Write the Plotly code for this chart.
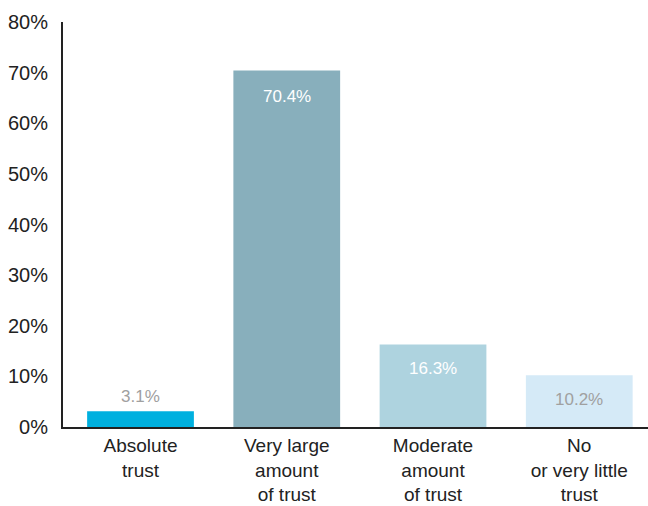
import plotly.graph_objects as go

categories = ["Absolute<br>trust", "Very large<br>amount<br>of trust",
              "Moderate<br>amount<br>of trust", "No<br>or very little<br>trust"]
values = [3.1, 70.4, 16.3, 10.2]
labels = ["3.1%", "70.4%", "16.3%", "10.2%"]
bar_colors = ["#00B0DF", "#88AFBC", "#AED3DF", "#D5EAF7"]
label_colors = ["#A0A0A0", "#FFFFFF", "#FFFFFF", "#A0A0A0"]
label_shift = [15, -26, -24, -24]

font_family = "Liberation Sans, Arial, sans-serif"

fig = go.Figure()
fig.add_trace(go.Bar(
    x=list(range(len(categories))),
    y=values,
    marker=dict(color=bar_colors, line=dict(width=0)),
    width=0.73,
    hoverinfo="skip",
))

for i, (v, t, c, s) in enumerate(zip(values, labels, label_colors, label_shift)):
    fig.add_annotation(
        x=i, y=v, text=t, showarrow=False, yshift=s,
        font=dict(family=font_family, size=17, color=c),
        xanchor="center", yanchor="middle",
    )

fig.update_layout(
    width=648, height=506,
    margin=dict(l=63, r=0, t=22, b=79),
    paper_bgcolor="white", plot_bgcolor="white",
    showlegend=False,
    font=dict(family=font_family, size=19, color="#222222"),
    xaxis=dict(
        range=[-0.53, 3.47],
        tickmode="array",
        tickvals=list(range(len(categories))),
        ticktext=categories,
        showgrid=False, zeroline=False,
        showline=True, linecolor="#222222", linewidth=2,
        ticks="", tickfont=dict(size=19, color="#222222"),
    ),
    yaxis=dict(
        range=[0, 80],
        tickmode="array",
        tickvals=[0, 10, 20, 30, 40, 50, 60, 70, 80],
        ticktext=["0%", "10%", "20%", "30%", "40%", "50%", "60%", "70%", "80%"],
        showgrid=False, zeroline=False,
        showline=True, linecolor="#222222", linewidth=2,
        ticks="", ticklabelstandoff=9,
        tickfont=dict(size=20, color="#222222"),
    ),
)

fig.write_html("out.html")
